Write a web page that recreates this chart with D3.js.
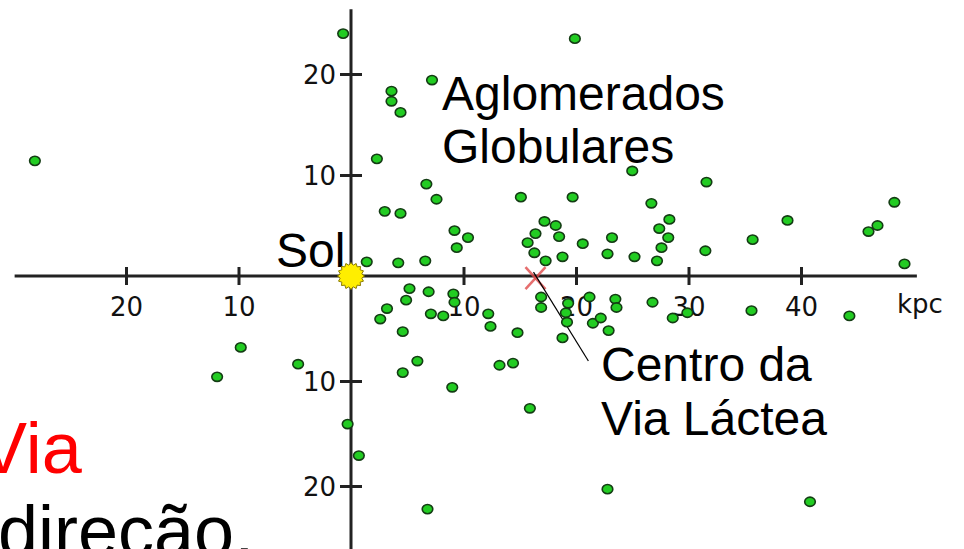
<!DOCTYPE html>
<html>
<head>
<meta charset="utf-8">
<style>
  body { margin: 0; background: #fff; }
  .tick text { font-family: "DejaVu Sans", sans-serif; font-size: 26px; fill: #111; }
  .tick line { stroke: #222; stroke-width: 3px; }
  .axisline { stroke: #222; stroke-width: 3px; }
  .cluster { fill: #22cc22; stroke: #143c14; stroke-width: 1.6px; }
  .label { font-family: "Liberation Sans", Arial, sans-serif; font-size: 48px; fill: #000; }
  .big { font-family: "Liberation Sans", Arial, sans-serif; font-size: 72px; }
</style>
</head>
<body>
<svg width="964" height="549"></svg>

<script src="https://cdnjs.cloudflare.com/ajax/libs/d3/7.8.5/d3.min.js"></script>
<script>

// globular clusters, kpc (x along sun -> galactic centre, y perpendicular)
var clusterX = [
  -0.7, 7.2, 3.6, 3.6, 4.4, -28.1, 2.3, 6.7, 7.6, 3.0, 4.4, 9.2, 10.4, 9.4, 1.4, 4.2, 6.6,
  15.1, 19.7, 17.2, 18.2, 16.4, 18.5, 15.7, 16.3, 18.8, 17.3, 19.9, 25.0, 31.6, 26.7, 28.3,
  27.4, 28.2, 20.6, 23.2, 27.6, 22.8, 25.2, 27.2, 31.5, 35.7, 38.8, 46.0, 46.8, 48.3, 49.2,
  5.2, 6.9, 9.1, 4.9, 9.2, 3.2, 7.1, 8.2, 2.6, 4.6, -9.8, -4.7, 5.9, -11.9, 4.6, 9.0,
  -0.3, 0.7, 6.8, 12.2, 12.4, 14.8, 13.2, 14.4, 15.9, 16.9, 16.9, 19.3, 19.1, 19.2, 18.8,
  21.2, 21.5, 22.2, 23.5, 23.6, 22.9, 26.8, 28.6, 29.9, 35.6, 44.3, 22.8, 40.8
];
var clusterY = [
  24.0, 19.4, 18.3, 17.3, 16.2, 11.4, 11.6, 9.1, 7.6, 6.4, 6.2, 4.5, 3.8, 2.8, 1.4, 1.3, 1.5,
  7.8, 7.8, 5.4, 5.0, 4.2, 3.9, 3.3, 2.3, 1.9, 1.5, 23.5, 10.4, 9.3, 7.2, 5.6,
  4.7, 3.8, 3.2, 3.8, 2.8, 2.2, 1.9, 1.5, 2.5, 3.6, 5.5, 4.4, 5.0, 7.3, 1.2,
  -1.2, -1.5, -1.7, -2.3, -2.5, -3.1, -3.6, -3.8, -4.1, -5.3, -6.8, -8.4, -8.1, -9.6, -9.2, -10.6,
  -14.1, -17.1, -22.2, -3.6, -4.8, -5.4, -8.5, -8.3, -12.6, -2.0, -3.0, -2.6, -3.5, -4.4, -5.9,
  -2.0, -4.5, -4.0, -2.2, -3.0, -5.2, -2.5, -4.0, -3.5, -3.3, -3.8, -20.3, -21.5
];

var xTicks = [-20, -10, 10, 20, 30, 40];
var yTicks = [20, 10, -10, -20];

var sun = [0, 0];
var galCentre = [16.4, -0.2];
var leaderEnd = [21.1, -8.1];

var svg = d3.select("svg");

var x = d3.scaleLinear().domain([-20, 40]).range([126, 801]);
// the picture is a little stretched below the axis
var y = d3.scaleLinear().domain([20, 0, -20]).range([74, 276, 486]);

// axis lines, extended past the tick range
svg.append("line").attr("class", "axisline")
    .attr("x1", x(-29.9)).attr("x2", x(50.3))
    .attr("y1", y(0)).attr("y2", y(0));
svg.append("line").attr("class", "axisline")
    .attr("x1", x(0)).attr("x2", x(0))
    .attr("y1", y(26.4)).attr("y2", 549);

var fmt = function(d) { return Math.abs(d); };

var gx = svg.append("g")
    .attr("transform", "translate(0," + y(0) + ")")
    .call(d3.axisBottom(x).tickValues(xTicks).tickFormat(fmt).tickSize(9));
gx.select(".domain").remove();
gx.selectAll(".tick line").attr("y1", -9).attr("y2", 9);
gx.selectAll(".tick text").attr("y", 22).attr("dy", "0.71em");

var gy = svg.append("g")
    .attr("transform", "translate(" + x(0) + ",0)")
    .call(d3.axisLeft(y).tickValues(yTicks).tickFormat(fmt).tickSize(11));
gy.select(".domain").remove();
gy.selectAll(".tick line").attr("x1", -11).attr("x2", 11);
gy.selectAll(".tick text").attr("x", -15).attr("dy", "0.36em");

svg.append("text")
    .attr("x", 897).attr("y", 313)
    .style("font-family", "DejaVu Sans, sans-serif")
    .style("font-size", "26px")
    .style("fill", "#111")
    .text("kpc");

// labels
svg.append("text").attr("class", "label").attr("x", 276).attr("y", 267).text("Sol");
svg.append("text").attr("class", "label").attr("x", 442).attr("y", 110).text("Aglomerados");
svg.append("text").attr("class", "label").attr("x", 442).attr("y", 163).text("Globulares");
svg.append("text").attr("class", "label").attr("x", 601).attr("y", 381).text("Centro da");
svg.append("text").attr("class", "label").attr("x", 601).attr("y", 435).text("Via Láctea");

svg.append("text").attr("class", "big").attr("x", -21).attr("y", 473)
    .style("fill", "#ff0000").text("Via");
svg.append("text").attr("class", "big").attr("x", -2).attr("y", 556)
    .style("fill", "#000").text("direção,");

// galactic centre marker + leader line
var gcx = x(galCentre[0]), gcy = y(galCentre[1]);
svg.append("g").selectAll("line")
    .data([[-1, -1], [1, -1]])
    .enter().append("line")
    .attr("x1", function(d) { return gcx + d[0] * 10; })
    .attr("y1", function(d) { return gcy + d[1] * 11; })
    .attr("x2", function(d) { return gcx - d[0] * 10; })
    .attr("y2", function(d) { return gcy - d[1] * 11; })
    .style("stroke", "#e04a4a")
    .style("stroke-width", 2.5)
    .style("opacity", 0.8);

svg.append("line")
    .attr("x1", gcx - 2).attr("y1", gcy - 6)
    .attr("x2", x(leaderEnd[0])).attr("y2", y(leaderEnd[1]))
    .style("stroke", "#000").style("stroke-width", 1.2);

// clusters
svg.append("g").selectAll("ellipse")
    .data(d3.range(clusterX.length))
    .enter().append("ellipse")
    .attr("class", "cluster")
    .attr("cx", function(i) { return x(clusterX[i]); })
    .attr("cy", function(i) { return y(clusterY[i]); })
    .attr("rx", 5.3)
    .attr("ry", 4.6);

// the sun, a little spiky disc
var spikes = 16;
var star = d3.lineRadial()
    .angle(function(d, i) { return i * Math.PI / spikes; })
    .radius(function(d, i) { return i % 2 ? 11 : 13.5; })
    .curve(d3.curveLinearClosed);
svg.append("path")
    .attr("transform", "translate(" + x(sun[0]) + "," + y(sun[1]) + ")")
    .attr("d", star(d3.range(spikes * 2)))
    .style("fill", "#ffee00")
    .style("stroke", "#8a7a00")
    .style("stroke-width", 1);

</script>
</body>
</html>
